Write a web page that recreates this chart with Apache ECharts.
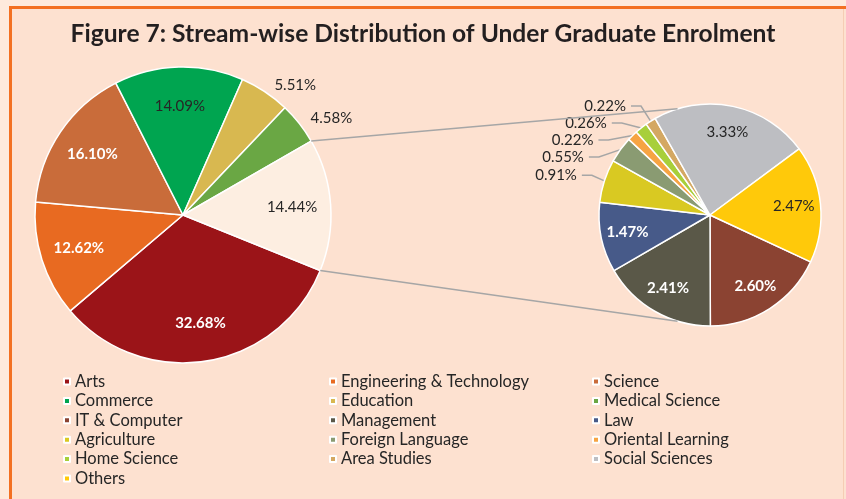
<!DOCTYPE html>
<html>
<head>
<meta charset="utf-8">
<script src="https://cdn.jsdelivr.net/npm/echarts@6/dist/echarts.min.js"></script>
<style>
  html, body { margin: 0; padding: 0; background: #feeadc; }
  #chart { width: 846px; height: 499px; }
</style>
</head>
<body>
<div id="chart"></div>
<script>
// main pie: streams, the last slice is split out in the small pie
const mainNames = ['Arts', 'Engineering & Technology', 'Science', 'Commerce', 'Education', 'Medical Science', 'Other'];
const mainValues = [32.68, 12.62, 16.10, 14.09, 5.51, 4.58, 14.44];
const mainColors = ['#9b1418', '#e86a21', '#c96c3a', '#00a550', '#d8b850', '#6aa744', '#fdeee1'];

// breakdown of "Other"
const subNames = ['IT & Computer', 'Management', 'Law', 'Agriculture', 'Foreign Language',
  'Oriental Learning', 'Home Science', 'Area Studies', 'Social Sciences', 'Others'];
const subValues = [2.60, 2.41, 1.47, 0.91, 0.55, 0.22, 0.26, 0.22, 3.33, 2.47];
const subColors = ['#8b4332', '#5a5848', '#475a89', '#d9c922', '#8a9b72',
  '#f6a443', '#a8cf3a', '#d4a862', '#bdbec2', '#ffc90a'];

// legend is laid out in three columns
const legendCols = [
  ['Arts', 'Commerce', 'IT & Computer', 'Agriculture', 'Home Science', 'Others'],
  ['Engineering & Technology', 'Education', 'Management', 'Foreign Language', 'Area Studies'],
  ['Science', 'Medical Science', 'Law', 'Oriental Learning', 'Social Sciences']
];

const whiteLabels = ['Arts', 'Engineering & Technology', 'Science', 'IT & Computer', 'Management', 'Law'];

const FONT = 'Lato';
const mainCenter = [183, 215], mainR = 148, mainStart = 22;   // start: degrees clockwise from 3 o'clock
const subCenter = [710, 215], subR = 111, subStart = 25;

const buildData = (names, values, colors, outsideBelow, withLine) =>
  names.map((n, i) => {
    const white = whiteLabels.includes(n)
    const outside = values[i] < outsideBelow
    return {
      name: n,
      value: values[i],
      itemStyle: { color: colors[i] },
      label: {
        position: outside ? 'outside' : 'inside',
        color: white ? '#ffffff' : '#262626',
        fontWeight: white ? 'bold' : 'normal'
      },
      labelLine: { show: outside && withLine }
    }
  })

// push inside labels further out from the centre (Excel puts them near the rim)
const pushOut = (center, k, values, limit) => (p) => {
  if (values[p.dataIndex] < limit) return {}
  const r = p.labelRect
  return {
    dx: (r.x + r.width / 2 - center[0]) * k,
    dy: (r.y + r.height / 2 - center[1]) * k
  }
}

// connector lines from the "Other" slice to the small pie
const total = mainValues.reduce((a, b) => a + b, 0)
const otherFrom = mainStart + 360 * (total - mainValues[6]) / total
const otherTo = mainStart + 360
const rad = (d) => d * Math.PI / 180
const mainPt = (a) => [mainCenter[0] + mainR * Math.cos(rad(a)), mainCenter[1] + mainR * Math.sin(rad(a))]
const subPt = (a) => [subCenter[0] + subR * Math.cos(rad(a)), subCenter[1] + subR * Math.sin(rad(a))]
const p1 = mainPt(otherFrom), p2 = subPt(-107)
const p3 = mainPt(otherTo), p4 = subPt(107)

const chart = echarts.init(document.getElementById('chart'))

chart.setOption({
  animation: false,
  textStyle: { fontFamily: FONT },
  title: {
    text: 'Figure 7: Stream-wise Distribution of Under Graduate Enrolment',
    left: 'center',
    top: 17,
    textStyle: { fontFamily: FONT, fontSize: 24.6, fontWeight: 'bold', color: '#231f20' }
  },
  graphic: [
    { type: 'rect', z: -10, shape: { x: 9, y: 6, width: 837, height: 493 }, style: { fill: '#fde1d0' } },
    { type: 'rect', z: -9, shape: { x: 9, y: 6, width: 837, height: 3 }, style: { fill: '#f37021' } },
    { type: 'rect', z: -9, shape: { x: 9, y: 6, width: 3, height: 493 }, style: { fill: '#f37021' } },
    { type: 'rect', z: -9, shape: { x: 843, y: 9, width: 1, height: 490 }, style: { fill: '#f5cdb4' } },
    { type: 'line', z: 100, shape: { x1: p1[0], y1: p1[1], x2: p2[0], y2: p2[1] }, style: { stroke: '#a6a6a6', lineWidth: 1.5 } },
    { type: 'line', z: 100, shape: { x1: p3[0], y1: p3[1], x2: p4[0], y2: p4[1] }, style: { stroke: '#a6a6a6', lineWidth: 1.5 } }
  ],
  legend: legendCols.map((col, i) => ({
    data: col,
    orient: 'vertical',
    left: [58, 324, 587][i],
    top: 368,
    icon: 'rect',
    itemWidth: 6,
    itemHeight: 6,
    itemGap: 2.4,
    selectedMode: false,
    textStyle: { fontFamily: FONT, fontSize: 16.5, color: '#262626', lineHeight: 17 }
  })),
  series: [
    {
      type: 'pie',
      center: mainCenter,
      radius: mainR,
      startAngle: -mainStart,
      clockwise: true,
      data: buildData(mainNames, mainValues, mainColors, 10, false),
      itemStyle: { borderColor: '#ffffff', borderWidth: 1.5 },
      label: { formatter: (p) => p.value.toFixed(2) + '%', fontSize: 15, fontFamily: FONT },
      labelLine: { length: 8, length2: 0 },
      labelLayout: pushOut(mainCenter, 0.42, mainValues, 10)
    },
    {
      type: 'pie',
      center: subCenter,
      radius: subR,
      startAngle: -subStart,
      clockwise: true,
      data: buildData(subNames, subValues, subColors, 1, true),
      itemStyle: { borderColor: '#ffffff', borderWidth: 1.5 },
      label: { formatter: (p) => p.value.toFixed(2) + '%', fontSize: 15, fontFamily: FONT },
      labelLine: { length: 18, length2: 10, lineStyle: { color: '#a6a6a6', width: 1.5 } },
      labelLayout: pushOut(subCenter, 0.44, subValues, 1)
    }
  ]
})
</script>
</body>
</html>
